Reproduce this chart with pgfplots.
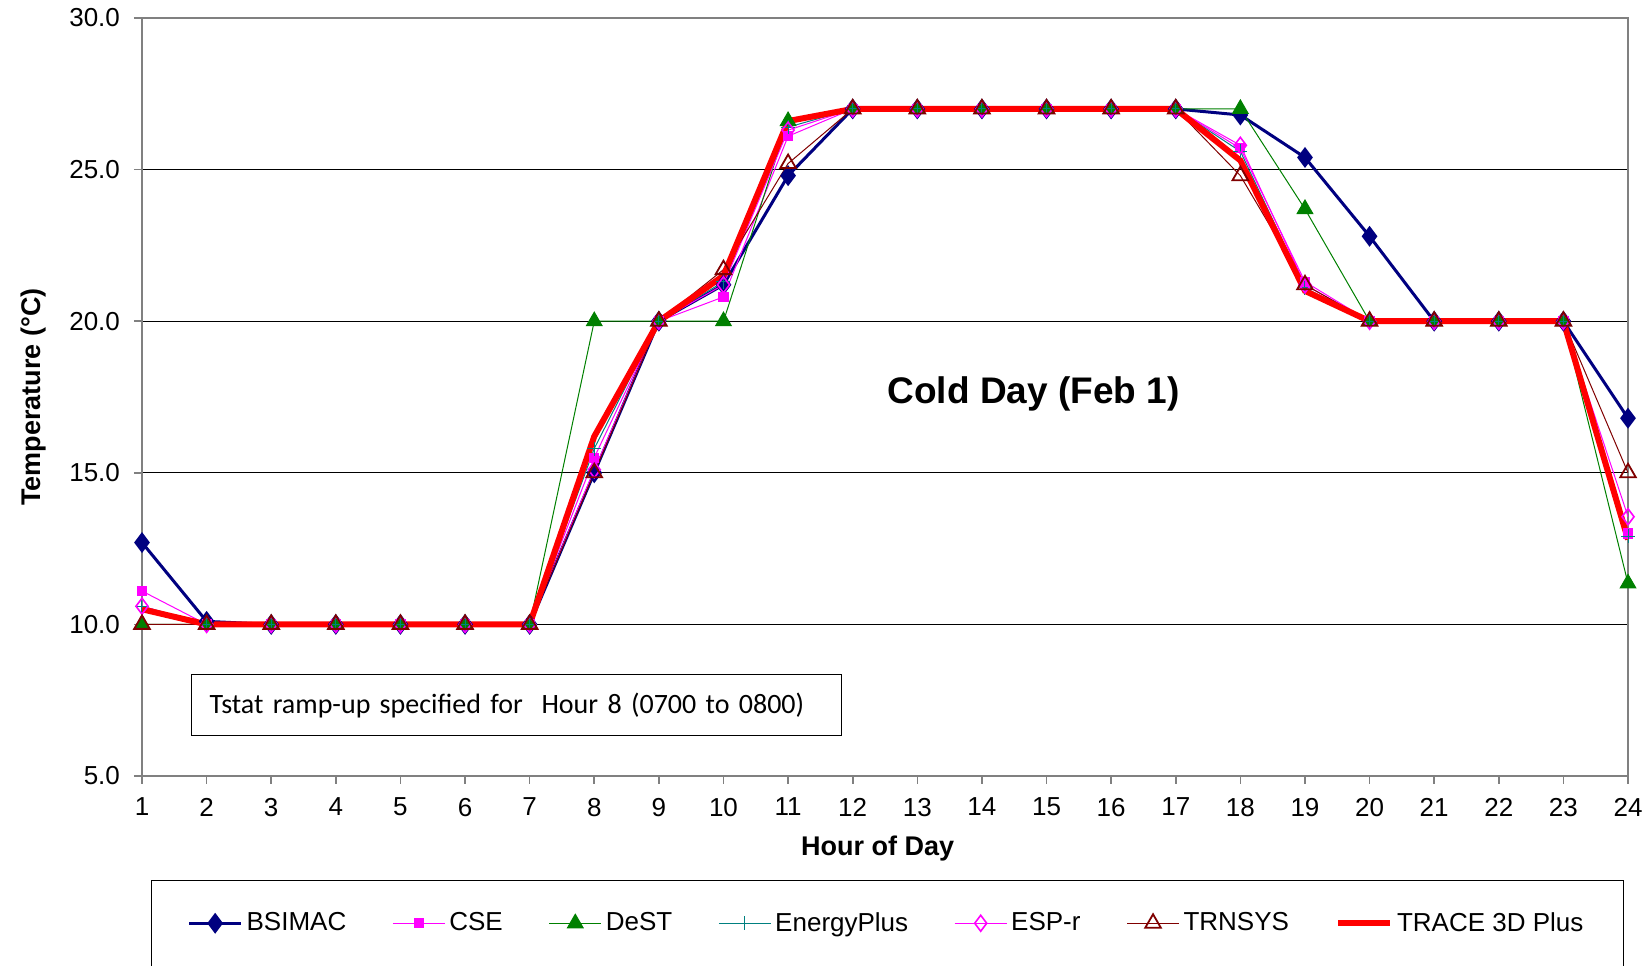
\documentclass[border=0pt]{standalone}
\usepackage{fontspec}
\setmainfont{Liberation Sans}
\newfontfamily\calibri{Carlito}
\usepackage{pgfplots}
\pgfplotsset{compat=1.18}

\definecolor{bsnavy}{RGB}{0,0,128}
\definecolor{csemag}{RGB}{255,0,255}
\definecolor{destgreen}{RGB}{0,128,0}
\definecolor{epteal}{RGB}{0,128,128}
\definecolor{trndark}{RGB}{128,0,0}
\definecolor{axgray}{RGB}{128,128,128}

\begin{document}
\begin{tikzpicture}
\begin{axis}[
    scale only axis,
    width=743pt, height=379pt,
    xmin=1, xmax=24, ymin=5, ymax=30,
    xtick={1,...,24},
    ytick={5,10,...,30},
    xtick pos=bottom, ytick pos=left,
    yticklabel style={xshift=-3.5pt, /pgf/number format/.cd, fixed, fixed zerofill, precision=1},
    xticklabel style={yshift=-3.5pt},
    /pgf/number format/assume math mode=true,
    ymajorgrids,
    major grid style={black, line width=0.5pt},
    axis line style={axgray, line width=1pt},
    tick style={axgray, line width=0.8pt},
    tick align=outside,
    major tick length=4pt,
    ticklabel style={font=\fontsize{13}{15}\selectfont},
    xlabel={Hour of Day},
    ylabel={Temperature (°C)},
    every axis x label/.style={at={(axis description cs:0.495,-0.0963)}, anchor=center,
        font=\fontsize{13.5}{16}\selectfont\bfseries},
    every axis y label/.style={at={(axis description cs:-0.0727,0.5)}, rotate=90, anchor=center,
        font=\fontsize{13.5}{16}\selectfont\bfseries},
    legend columns=7,
    legend style={
        at={(axis description cs:0.5017,-0.137)}, anchor=north,
        draw=black, line width=0.5pt,
        font=\fontsize{13}{15}\selectfont,
        inner xsep=18pt, inner ysep=14pt,
        /tikz/every even column/.append style={column sep=21pt},
    },
    legend image code/.code={
        \draw[mark repeat=2, mark phase=2] plot coordinates {(0pt,0pt) (13pt,0pt) (26pt,0pt)};
    },
]
% BSIMAC
\addplot[bsnavy, line width=1.5pt, mark=diamond*, mark size=4pt, mark options={solid}] coordinates {
(1,12.7) (2,10.1) (3,10) (4,10) (5,10) (6,10) (7,10) (8,15.0) (9,20) (10,21.2) (11,24.8) (12,27)
(13,27) (14,27) (15,27) (16,27) (17,27) (18,26.8) (19,25.4) (20,22.8) (21,20) (22,20) (23,20) (24,16.8)};
\addlegendentry{BSIMAC}
% CSE
\addplot[csemag, line width=0.5pt, mark=square*, mark size=2.3pt] coordinates {
(1,11.1) (2,10) (3,10) (4,10) (5,10) (6,10) (7,10) (8,15.5) (9,20) (10,20.8) (11,26.1) (12,27)
(13,27) (14,27) (15,27) (16,27) (17,27) (18,25.7) (19,21.3) (20,20) (21,20) (22,20) (23,20) (24,13.0)};
\addlegendentry{CSE}
% DeST
\addplot[destgreen, line width=0.5pt, mark=triangle*, mark size=4.5pt] coordinates {
(1,10) (2,10) (3,10) (4,10) (5,10) (6,10) (7,10) (8,20) (9,20) (10,20) (11,26.6) (12,27)
(13,27) (14,27) (15,27) (16,27) (17,27) (18,27) (19,23.7) (20,20) (21,20) (22,20) (23,20) (24,11.35)};
\addlegendentry{DeST}
% EnergyPlus
\addplot[epteal, line width=0.5pt, mark=+, mark size=3.5pt] coordinates {
(1,10.6) (2,10) (3,10) (4,10) (5,10) (6,10) (7,10) (8,15.8) (9,20) (10,21.3) (11,26.4) (12,27)
(13,27) (14,27) (15,27) (16,27) (17,27) (18,25.6) (19,21.1) (20,20) (21,20) (22,20) (23,20) (24,12.9)};
\addlegendentry{EnergyPlus}
% ESP-r
\addplot[csemag, line width=0.5pt, mark=diamond, mark size=4pt, mark options={fill=white, line width=0.8pt}] coordinates {
(1,10.6) (2,10) (3,10) (4,10) (5,10) (6,10) (7,10) (8,15.1) (9,20) (10,21.2) (11,26.3) (12,27)
(13,27) (14,27) (15,27) (16,27) (17,27) (18,25.8) (19,21.2) (20,20) (21,20) (22,20) (23,20) (24,13.55)};
\addlegendentry{ESP-r}
% TRNSYS
\addplot[trndark, line width=0.5pt, mark=triangle, mark size=4.5pt, mark options={fill=white, line width=0.9pt}] coordinates {
(1,10.0) (2,10) (3,10) (4,10) (5,10) (6,10) (7,10) (8,15.0) (9,20) (10,21.7) (11,25.2) (12,27)
(13,27) (14,27) (15,27) (16,27) (17,27) (18,24.8) (19,21.2) (20,20) (21,20) (22,20) (23,20) (24,15.0)};
\addlegendentry{TRNSYS}
% TRACE 3D Plus
\addplot[red, line width=3pt, no marks] coordinates {
(1,10.5) (2,10) (3,10) (4,10) (5,10) (6,10) (7,10) (8,16.2) (9,20) (10,21.5) (11,26.6) (12,27)
(13,27) (14,27) (15,27) (16,27) (17,27) (18,25.3) (19,21.0) (20,20) (21,20) (22,20) (23,20) (24,12.8)};
\addlegendentry{TRACE 3D Plus}

\node[font=\fontsize{18.5}{21}\selectfont\bfseries] at (axis cs:14.8,17.6) {Cold Day (Feb 1)};
\node[draw=black, line width=0.6pt, fill=white, anchor=west, minimum height=30.5pt,
      text width=307pt, inner xsep=9pt, align=left, font=\calibri\fontsize{14}{16}\selectfont]
      at (axis cs:1.76,7.33) {Tstat ramp-up specified for\ \ Hour 8 (0700 to 0800)};
\end{axis}
\pgfresetboundingbox
\path[use as bounding box] ([shift={(-71pt,-95pt)}]current axis.south west) rectangle ([shift={(11.5pt,9pt)}]current axis.north east);
\end{tikzpicture}
\end{document}
